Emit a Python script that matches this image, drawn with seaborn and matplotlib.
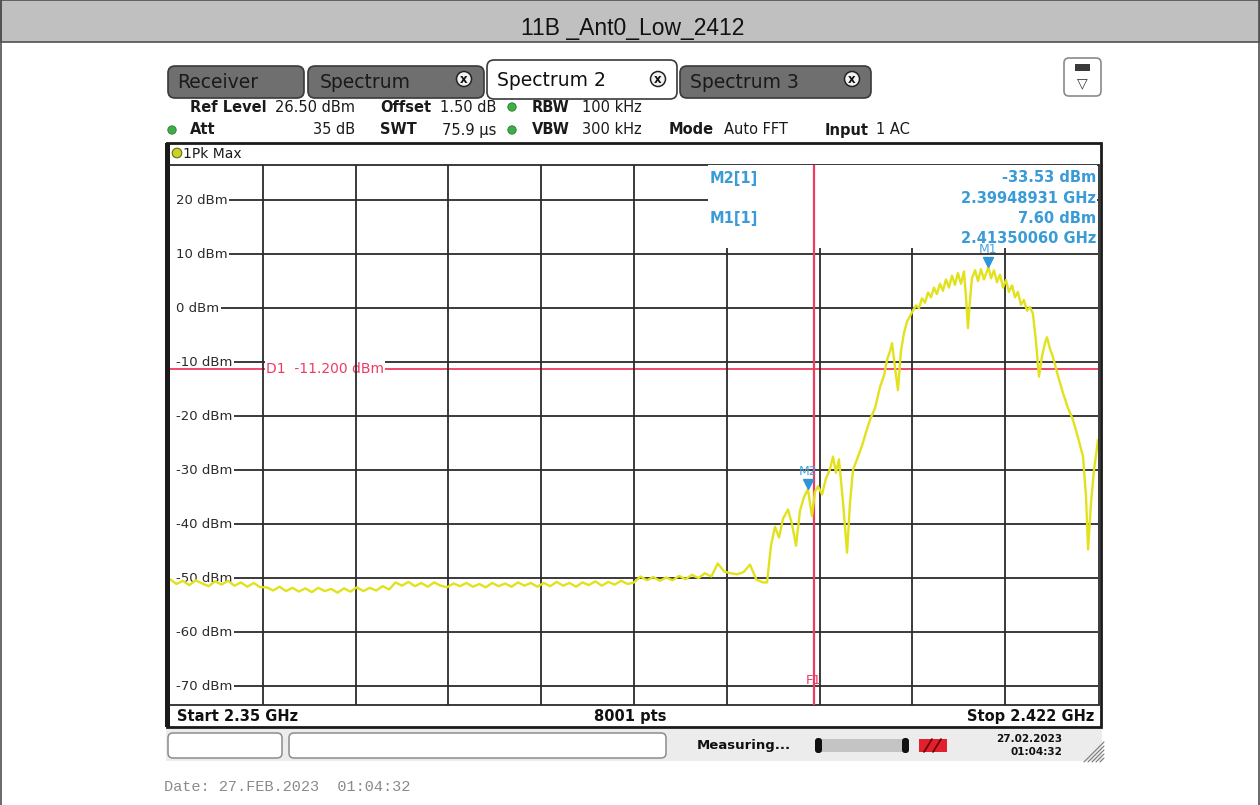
import matplotlib
matplotlib.use("Agg")
import matplotlib.pyplot as plt
import seaborn as sns
import pandas as pd
from matplotlib.patches import Rectangle, FancyBboxPatch, Circle, Polygon

# ---------------- data ----------------
title_text = "11B _Ant0_Low_2412"

floor_freq_mhz = [2350.0, 2350.5, 2351.0, 2351.5, 2352.0, 2352.5, 2353.0, 2353.5, 2354.0, 2354.5,
                  2355.0, 2355.5, 2356.0, 2356.5, 2357.0, 2357.5, 2358.0, 2358.5, 2359.0, 2359.5,
                  2360.0, 2360.5, 2361.0, 2361.5, 2362.0, 2362.5, 2363.0, 2363.5, 2364.0, 2364.5,
                  2365.0, 2365.5, 2366.0, 2366.5, 2367.0, 2367.5, 2368.0, 2368.5, 2369.0, 2369.5,
                  2370.0, 2370.5, 2371.0, 2371.5, 2372.0, 2372.5, 2373.0, 2373.5, 2374.0, 2374.5,
                  2375.0, 2375.5, 2376.0, 2376.5, 2377.0, 2377.5, 2378.0, 2378.5, 2379.0, 2379.5,
                  2380.0, 2380.5, 2381.0, 2381.5, 2382.0, 2382.5, 2383.0, 2383.5, 2384.0, 2384.5,
                  2385.0, 2385.5, 2386.0, 2386.5, 2387.0, 2387.5, 2388.0, 2388.5, 2389.0, 2389.5,
                  2390.0, 2390.5, 2391.0, 2391.5, 2392.0, 2392.5, 2393.0, 2393.5, 2394.0, 2394.5,
                  2395.0, 2395.5, 2396.0]
floor_level_dbm = [-50.2, -51.1, -50.5, -51.3, -50.4, -51.0, -51.5, -50.6, -51.2, -50.5,
                   -51.4, -50.8, -51.6, -50.9, -51.7,
                   -51.7, -52.3, -51.6, -52.4, -51.8, -52.5, -51.9, -52.6, -51.8, -52.4,
                   -52.0, -52.7, -51.9, -52.5, -51.7, -52.4, -51.8, -52.3, -51.5, -52.1,
                   -50.8, -51.4, -50.7, -51.5, -50.9, -51.6, -50.8, -51.4, -51.7, -51.0,
                   -51.5, -50.9, -51.6, -51.1, -51.7, -50.9, -51.5, -51.0, -51.6, -50.8,
                   -51.4, -50.9,
                   -51.6, -50.9, -51.5, -50.7, -51.4, -50.9, -51.6, -50.8, -51.3, -50.6,
                   -51.4, -50.7, -51.2, -50.5, -51.1, -50.8,
                   -49.7, -50.4, -49.8, -50.5, -49.9, -50.4, -49.6, -50.2, -49.4, -50.0,
                   -49.1, -49.7,
                   -47.3, -48.8, -49.1, -49.3, -48.9, -47.5, -50.3, -50.8]

band_freq_mhz = [2396.32, 2396.63, 2396.94, 2397.25, 2397.56, 2397.95, 2398.26, 2398.57, 2398.88, 2399.19,
                 2399.49, 2399.81, 2400.04, 2400.28, 2400.59, 2400.90, 2401.21, 2401.44, 2401.67, 2401.90,
                 2402.22, 2402.53, 2402.76, 2402.99, 2403.38, 2403.69, 2404.00, 2404.31, 2404.70, 2405.09,
                 2405.40, 2405.63, 2405.86, 2406.02, 2406.25, 2406.48, 2406.71, 2406.95, 2407.18, 2407.41,
                 2407.65, 2407.88, 2408.11, 2408.34, 2408.58, 2408.81, 2409.04, 2409.27, 2409.50, 2409.74,
                 2409.97, 2410.20, 2410.44, 2410.67, 2410.90, 2411.13, 2411.37, 2411.60, 2411.76, 2411.91,
                 2412.07, 2412.22, 2412.46, 2412.69, 2412.92, 2413.15, 2413.50, 2413.70, 2413.93, 2414.16,
                 2414.40, 2414.63, 2414.86, 2415.09, 2415.33, 2415.56, 2415.79, 2416.02, 2416.25, 2416.49,
                 2416.72, 2416.95, 2417.18, 2417.42, 2417.65, 2417.88, 2418.04, 2418.27, 2418.50, 2418.89,
                 2419.28, 2419.67, 2420.06, 2420.45, 2420.84, 2421.07, 2421.23, 2421.46, 2421.69, 2422.00]
band_level_dbm = [-50.8, -44.0, -40.5, -42.5, -39.0, -37.3, -40.0, -44.0, -37.5, -35.0,
                  -33.53, -38.5, -34.0, -33.0, -34.5, -31.5, -29.8, -27.5, -30.5, -28.0,
                  -36.0, -45.3, -36.0, -30.0, -27.5, -25.5, -23.0, -20.7, -18.5, -14.6,
                  -12.5, -9.6, -8.0, -6.5, -11.0, -15.2, -8.0, -4.6, -2.5, -1.5,
                  -0.4, 0.5, 0.0, 1.8, 1.0, 2.9, 2.0, 3.8, 2.6, 4.5,
                  3.2, 5.3, 3.8, 6.0, 4.3, 6.5, 4.5, 6.8, 2.0, -3.7,
                  1.5, 5.5, 7.0, 5.0, 7.2, 5.3, 7.6, 5.5, 7.0, 4.8,
                  6.2, 3.8, 5.2, 3.0, 4.2, 2.0, 3.0, 0.6, 1.5, -0.5,
                  0.2, -1.0, -6.0, -12.7, -9.0, -6.5, -5.4, -7.5, -9.0, -12.5,
                  -15.7, -18.5, -20.7, -24.0, -27.5, -35.0, -44.7, -36.0, -30.0, -24.4]

y_tick_dbm = [20, 10, 0, -10, -20, -30, -40, -50, -60, -70]
y_tick_labels = ["20 dBm", "10 dBm", "0 dBm", "-10 dBm", "-20 dBm", "-30 dBm",
                 "-40 dBm", "-50 dBm", "-60 dBm", "-70 dBm"]
x_grid_mhz = [2357.2, 2364.4, 2371.6, 2378.8, 2386.0, 2393.2, 2400.4, 2407.6, 2414.8]
x_start_mhz, x_stop_mhz = 2350.0, 2422.0
ref_level_dbm, bottom_dbm = 26.5, -73.5

d1_level_dbm = -11.2
d1_label = "D1  -11.200 dBm"
f1_freq_mhz = 2400.0

marker_names = ["M1", "M2"]
marker_freq_mhz = [2413.50060, 2399.48931]
marker_level_dbm = [7.60, -33.53]

# ---------------- styling ----------------
sns.set_style("white")
plt.rcParams["font.family"] = ["DejaVu Sans"]

W, H = 1260, 805
fig = plt.figure(figsize=(W / 100, H / 100), dpi=100)
fig.patch.set_facecolor("white")

bg = fig.add_axes([0, 0, 1, 1], zorder=0)
bg.set_xlim(0, W)
bg.set_ylim(H, 0)
bg.axis("off")

GRID = "#2b2b2b"
RED = "#ee3b62"
BLUE = "#2f95d8"
YEL = "#e2e21c"

# outer report frame + header
bg.add_patch(Rectangle((0.5, 0.5), W - 1, 42, fc="#c0c0c0", ec="#505050", lw=1.2))
bg.plot([0.5, 0.5], [0, H], color="#505050", lw=1.2)
bg.plot([W - 0.8, W - 0.8], [0, H], color="#505050", lw=1.2)
bg.text(W / 2 + 3, 28, title_text, ha="center", va="center", fontsize=16.5,
        family=["Liberation Sans", "DejaVu Sans"], color="#111111")

# tabs
def tab(x0, x1, y0, y1, label, active=False, close_x=None, tx=None):
    fc = "#ffffff" if active else "#6f6f6f"
    bg.add_patch(FancyBboxPatch((x0, y0), x1 - x0, y1 - y0,
                                boxstyle="round,pad=0,rounding_size=7",
                                fc=fc, ec="#3a3a3a", lw=1.2))
    bg.text(tx if tx else x0 + 10, (y0 + y1) / 2 + 1, label, ha="left", va="center",
            fontsize=13.5, color="#111111" if active else "#1a1a1a")
    if close_x:
        bg.add_patch(Circle((close_x, 79), 7.5, fc="#f2f2f2", ec="#222222", lw=1.1))
        bg.text(close_x, 79.5, "x", ha="center", va="center", fontsize=8.5,
                fontweight="bold", color="#111111")

tab(168, 304, 66, 98, "Receiver", tx=177)
tab(308, 484, 66, 98, "Spectrum", close_x=464, tx=320)
tab(680, 871, 66, 98, "Spectrum 3", close_x=852, tx=690)
tab(487, 677, 60, 99, "Spectrum 2", active=True, close_x=658, tx=497)
bg.add_patch(FancyBboxPatch((1064, 58), 37, 38, boxstyle="round,pad=0,rounding_size=5",
                            fc="white", ec="#8a8a8a", lw=1.2))
bg.add_patch(Rectangle((1075, 64), 15, 7, fc="#3a3a3a", ec="none"))
bg.text(1082.5, 83, "\u25bd", ha="center", va="center", fontsize=10, color="#333333")

# setting rows
def info(x, y, s, bold=False, ha="left"):
    bg.text(x, y, s, ha=ha, va="center", fontsize=10.5,
            fontweight="bold" if bold else "normal", color="#1a1a1a")

def dot(x, y):
    bg.add_patch(Circle((x, y), 4.2, fc="#3fae48", ec="#2c7d33", lw=0.6))

info(190, 107, "Ref Level", True); info(275, 107, "26.50 dBm")
info(380, 107, "Offset", True); info(440, 107, "1.50 dB")
dot(512, 107); info(532, 107, "RBW", True); info(582, 107, "100 kHz")
dot(172, 130); info(190, 130, "Att", True); info(355, 130, "35 dB", ha="right")
info(380, 130, "SWT", True); info(442, 130, "75.9 \u00b5s")
dot(512, 130); info(532, 130, "VBW", True); info(582, 130, "300 kHz")
info(669, 130, "Mode", True); info(724, 130, "Auto FFT")
info(825, 130, "Input", True); info(876, 130, "1 AC")

# diagram frame
bg.add_patch(Rectangle((167, 143), 934, 584, fc="white", ec="#1a1a1a", lw=2.0))
bg.add_patch(Rectangle((165, 143), 5, 584, fc="#1a1a1a", ec="none"))
bg.plot([170, 1099], [165, 165], color=GRID, lw=1.3)
bg.plot([170, 1099], [705, 705], color=GRID, lw=1.3)
bg.plot([1098.5, 1098.5], [165, 705], color=GRID, lw=1.3)
bg.add_patch(Circle((177, 153), 4.8, fc="#c9d12a", ec="#6a6a10", lw=0.8))
bg.text(183, 153.5, "1Pk Max", ha="left", va="center", fontsize=10, color="#1a1a1a")
bg.text(177, 716, "Start 2.35 GHz", ha="left", va="center", fontsize=10.5, fontweight="bold", color="#111111")
bg.text(630, 716, "8001 pts", ha="center", va="center", fontsize=10.5, fontweight="bold", color="#111111")
bg.text(1094, 716, "Stop 2.422 GHz", ha="right", va="center", fontsize=10.5, fontweight="bold", color="#111111")

# status bar
bg.add_patch(Rectangle((166, 729), 936, 32, fc="#ececec", ec="none"))
bg.add_patch(FancyBboxPatch((168, 733), 114, 25, boxstyle="round,pad=0,rounding_size=5",
                            fc="white", ec="#8c8c8c", lw=1.1))
bg.add_patch(FancyBboxPatch((289, 733), 377, 25, boxstyle="round,pad=0,rounding_size=5",
                            fc="white", ec="#8c8c8c", lw=1.1))
bg.text(697, 745, "Measuring...", ha="left", va="center", fontsize=9.5, fontweight="bold", color="#111111")
bg.add_patch(FancyBboxPatch((816, 739), 92, 13, boxstyle="round,pad=0,rounding_size=4",
                            fc="#c4c4c4", ec="none"))
bg.add_patch(FancyBboxPatch((815, 738), 7, 15, boxstyle="round,pad=0,rounding_size=3",
                            fc="#111111", ec="none"))
bg.add_patch(FancyBboxPatch((902, 738), 7, 15, boxstyle="round,pad=0,rounding_size=3",
                            fc="#111111", ec="none"))
bg.add_patch(Rectangle((919, 739), 28, 13, fc="#e0202c", ec="none"))
bg.plot([924, 932], [752, 739], color="#6a0000", lw=1.2)
bg.plot([933, 941], [752, 739], color="#6a0000", lw=1.2)
bg.text(1062, 739, "27.02.2023", ha="right", va="center", fontsize=7.5, fontweight="bold", color="#111111")
bg.text(1062, 752, "01:04:32", ha="right", va="center", fontsize=7.5, fontweight="bold", color="#111111")
for k in range(5):
    bg.plot([1084 + 4 * k, 1104], [762, 742 + 4 * k], color="#777777", lw=0.8)

bg.text(164, 787, "Date: 27.FEB.2023  01:04:32", ha="left", va="center", fontsize=11,
        family=["Liberation Mono", "DejaVu Sans Mono"], color="#8a8a8a")

# ---------------- diagram axes ----------------
ax = fig.add_axes([170 / W, 1 - 705 / H, 928 / W, 540 / H], zorder=1)
ax.patch.set_visible(False)
ax.set_xlim(x_start_mhz, x_stop_mhz)
ax.set_ylim(bottom_dbm, ref_level_dbm)
ax.axis("off")

px_mhz = (x_stop_mhz - x_start_mhz) / 928.0
px_db = (ref_level_dbm - bottom_dbm) / 540.0

ax.hlines(y_tick_dbm, x_start_mhz, x_stop_mhz, color=GRID, lw=1.3, zorder=1)
for v, lab in zip(y_tick_dbm, y_tick_labels):
    ax.add_patch(Rectangle((x_start_mhz, v - 1.0), 8 * px_mhz, 2.0, fc="white", ec="none", zorder=1.1))
    ax.text(x_start_mhz + 6 * px_mhz, v, lab, ha="left", va="center", fontsize=9.5,
            color="#2a2a2a", zorder=1.2,
            bbox=dict(fc="white", ec="none", boxstyle="square,pad=0.12"))

ax.axhline(d1_level_dbm, color=RED, lw=1.3, zorder=1.5)
ax.text(x_start_mhz + 96 * px_mhz, d1_level_dbm, d1_label, ha="left", va="center",
        fontsize=10, color=RED, zorder=2,
        bbox=dict(fc="white", ec="none", boxstyle="square,pad=0.1"))

ax.vlines(x_grid_mhz, bottom_dbm, ref_level_dbm, color=GRID, lw=1.3, zorder=2.5)

# marker info box
box_left = x_start_mhz + 538 * px_mhz
box_bottom = ref_level_dbm - 83 * px_db
ax.add_patch(Rectangle((box_left, box_bottom), x_stop_mhz - box_left - 0.05,
                       ref_level_dbm - box_bottom, fc="white", ec="none", zorder=3))

ax.axvline(f1_freq_mhz, color=RED, lw=1.6, zorder=4)
ax.text(f1_freq_mhz - 0.05, bottom_dbm + 25 * px_db, "F1", ha="center", va="center",
        fontsize=9.5, color=RED, zorder=4)

# trace
trace = pd.DataFrame({"freq": floor_freq_mhz + band_freq_mhz,
                      "level": floor_level_dbm + band_level_dbm})
sns.lineplot(data=trace, x="freq", y="level", ax=ax, color=YEL, lw=1.7,
             estimator=None, sort=False, legend=False, zorder=5)
ax.set_xlim(x_start_mhz, x_stop_mhz)
ax.set_ylim(bottom_dbm, ref_level_dbm)
ax.axis("off")

for name, f, l in zip(marker_names, marker_freq_mhz, marker_level_dbm):
    ax.plot([f], [l + 1.0], marker="v", ms=7.5, color=BLUE, mec=BLUE, zorder=6, ls="none")
    ax.text(f, l + 3.2, name, ha="center", va="center", fontsize=9, color="#4aa3e0", zorder=6)

# marker readout text
def mt(x, y, s, ha="left"):
    ax.text(x, y, s, ha=ha, va="center", fontsize=10.5, fontweight="bold",
            color="#3a9bd9", transform=bg.transData, zorder=6)

mt(710, 178, "M2[1]")
mt(710, 218, "M1[1]")
mt(1096, 178, "-33.53 dBm", "right")
mt(1096, 198, "2.39948931 GHz", "right")
mt(1096, 218, "7.60 dBm", "right")
mt(1096, 238, "2.41350060 GHz", "right")

fig.savefig("out.png", dpi=100)
